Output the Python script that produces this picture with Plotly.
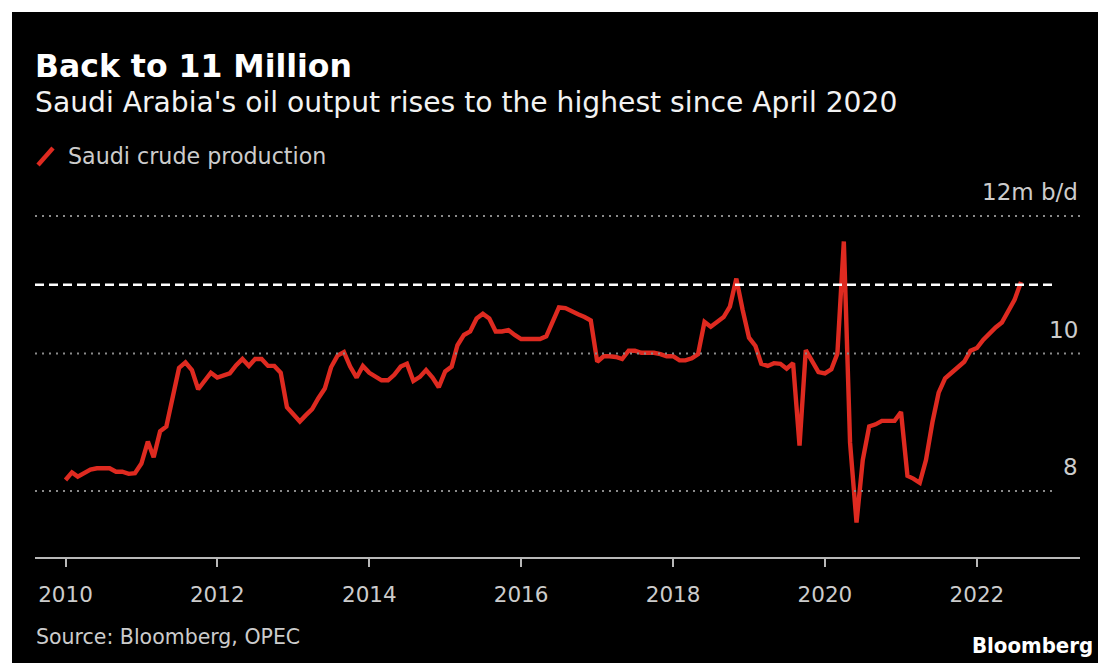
import pandas as pd
import plotly.graph_objects as go

# ---- data (million barrels/day), monthly Jan 2010 .. Aug 2022 ----
start_month = "2010-01-01"
production = [
    8.16, 8.27, 8.21, 8.27, 8.31, 8.33, 8.33, 8.33, 8.28, 8.28, 8.25, 8.26,   # 2010
    8.40, 8.72, 8.49, 8.87, 8.94, 9.36, 9.79, 9.87, 9.76, 9.48, 9.60, 9.72,   # 2011
    9.65, 9.68, 9.71, 9.83, 9.92, 9.82, 9.92, 9.92, 9.82, 9.82, 9.72, 9.22,   # 2012
    9.12, 9.01, 9.10, 9.19, 9.35, 9.49, 9.80, 9.97, 10.02, 9.81, 9.65, 9.82,  # 2013
    9.72, 9.66, 9.61, 9.61, 9.69, 9.81, 9.85, 9.60, 9.66, 9.76, 9.65, 9.51,   # 2014
    9.74, 9.81, 10.12, 10.27, 10.32, 10.51, 10.58, 10.51, 10.32, 10.32, 10.34, 10.27,  # 2015
    10.21, 10.21, 10.21, 10.21, 10.25, 10.47, 10.67, 10.66, 10.61, 10.57, 10.53, 10.48,  # 2016
    9.88, 9.96, 9.96, 9.95, 9.92, 10.04, 10.04, 10.01, 10.01, 10.01, 9.99, 9.96,  # 2017
    9.96, 9.90, 9.90, 9.93, 9.99, 10.46, 10.39, 10.46, 10.53, 10.68, 11.09, 10.64,  # 2018
    10.23, 10.11, 9.85, 9.82, 9.86, 9.85, 9.78, 9.86, 8.66, 10.05, 9.87, 9.73,  # 2019
    9.71, 9.77, 10.00, 11.63, 8.70, 7.54, 8.45, 8.94, 8.97, 9.02, 9.02, 9.02,  # 2020
    9.15, 8.22, 8.18, 8.12, 8.45, 9.00, 9.43, 9.64, 9.72, 9.80, 9.88, 10.04,  # 2021
    10.08, 10.20, 10.29, 10.38, 10.45, 10.61, 10.78, 11.04,                   # 2022
]
series_name = "Saudi crude production"
y_ticks = [8, 10, 12]
y_tick_labels = ["8", "10", "12m b/d"]
reference_level = 11
x_tick_start = "2010-01-01"

title = "Back to 11 Million"
subtitle = "Saudi Arabia's oil output rises to the highest since April 2020"
source = "Source: Bloomberg, OPEC"

# ---- layout geometry (pixels) ----
W, H = 1108, 663
L, R, T, B = 35, 28, 200, 106
PW, PH = W - L - R, H - T - B


def px(x):
    return (x - L) / PW


def py(y):
    return (H - B - y) / PH


dates = pd.date_range(start_month, periods=len(production), freq="MS")
# x-range so that first point sits at ~65.5px and last at ~1021px
first_px, last_px = 65.5, 1021.0
span_days = (dates[-1] - dates[0]).days
px_per_day = (last_px - first_px) / span_days
x0 = dates[0] - pd.Timedelta(days=(first_px - L) / px_per_day)
x1 = dates[-1] + pd.Timedelta(days=(L + PW - last_px) / px_per_day)

RED = "#de2a20"
SANS = "DejaVu Sans"
COND = "DejaVu Sans Condensed, Liberation Sans Narrow, DejaVu Sans"

fig = go.Figure()
fig.add_trace(go.Scatter(
    x=dates, y=production, mode="lines", name=series_name,
    line=dict(color=RED, width=4.4, shape="linear"),
    hoverinfo="x+y", showlegend=False,
))

shapes = []
# black card background
shapes.append(dict(type="rect", xref="paper", yref="paper",
                   x0=px(12), x1=px(1098), y0=py(H + 5), y1=py(12),
                   fillcolor="black", line=dict(width=0), layer="below"))
# dotted gridlines
for v in y_ticks:
    shapes.append(dict(type="line", xref="paper", yref="y",
                       x0=0, x1=(1.0 if v != min(y_ticks) else px(1052)),
                       y0=v, y1=v,
                       line=dict(color="#8a8a8a", width=2, dash="2px,5px")))
# dashed reference line
shapes.append(dict(type="line", xref="paper", yref="y", x0=0, x1=px(1052),
                   y0=reference_level, y1=reference_level,
                   line=dict(color="white", width=2.5, dash="9px,5px")))
# legend slash
shapes.append(dict(type="line", xref="paper", yref="paper",
                   x0=px(38), y0=py(165), x1=px(53), y1=py(148),
                   line=dict(color=RED, width=4.4)))

annotations = []
annotations.append(dict(text="<b>" + title + "</b>", xref="paper", yref="paper",
                        x=px(33), y=py(66), xanchor="left", yanchor="middle",
                        showarrow=False,
                        font=dict(family=SANS, size=31.5, color="white")))
annotations.append(dict(text=subtitle, xref="paper", yref="paper",
                        x=px(33), y=py(102), xanchor="left", yanchor="middle",
                        showarrow=False,
                        font=dict(family=SANS, size=28.2, color="#f2f2f2")))
annotations.append(dict(text=series_name, xref="paper", yref="paper",
                        x=px(66), y=py(156), xanchor="left", yanchor="middle",
                        showarrow=False,
                        font=dict(family=SANS, size=22.2, color="#cccccc")))
for v, lab in zip(y_ticks, y_tick_labels):
    annotations.append(dict(text=lab, xref="paper", yref="y", x=1.0, y=v,
                            xanchor="right", yanchor="middle", yshift=24,
                            showarrow=False,
                            font=dict(family=SANS, size=23, color="#cccccc")))
annotations.append(dict(text=source, xref="paper", yref="paper",
                        x=px(34), y=py(637), xanchor="left", yanchor="middle",
                        showarrow=False,
                        font=dict(family=SANS, size=20.5, color="#cccccc")))
annotations.append(dict(text="<b>Bloomberg</b>", xref="paper", yref="paper",
                        x=px(1095), y=py(645), xanchor="right", yanchor="middle",
                        showarrow=False,
                        font=dict(family=COND, size=22, color="white")))

fig.update_layout(
    width=W, height=H,
    margin=dict(l=L, r=R, t=T, b=B, pad=0),
    paper_bgcolor="white", plot_bgcolor="black",
    shapes=shapes, annotations=annotations,
    showlegend=False,
    xaxis=dict(
        type="date", range=[x0, x1],
        tick0=x_tick_start, dtick="M24", tickformat="%Y",
        showgrid=False, zeroline=False,
        showline=True, linecolor="#b8b8b8", linewidth=2,
        ticks="outside", ticklen=8, tickcolor="#b8b8b8", tickwidth=1.5,
        ticklabelstandoff=9,
        tickfont=dict(family=SANS, size=21.5, color="#cccccc"),
        fixedrange=True,
    ),
    yaxis=dict(
        range=[7.04, 12.233], showgrid=False, zeroline=False,
        showticklabels=False, showline=False, ticks="", fixedrange=True,
    ),
)

fig.write_html("out.html")
